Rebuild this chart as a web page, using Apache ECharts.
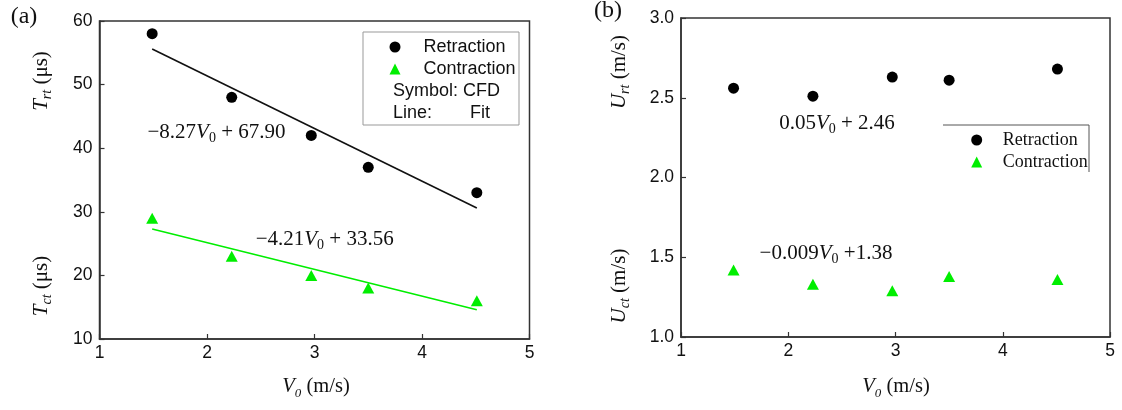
<!DOCTYPE html>
<html>
<head>
<meta charset="utf-8">
<script src="https://cdn.jsdelivr.net/npm/echarts@6/dist/echarts.min.js"></script>
<style>
  html, body { margin: 0; padding: 0; background: #fff; }
  #chart { width: 1122px; height: 410px; }
</style>
</head>
<body>
<div id="chart"></div>
<script>
// Impact velocity V0 (m/s)
const velocities = [1.49, 2.23, 2.97, 3.5, 4.51];

// (a) characteristic times (µs)
const retractionTime = [58, 48, 42, 37, 33];
const contractionTime = [29, 23, 20, 18, 16];

// (a) linear fits, end points over the sampled range
const fitRange = [1.49, 4.51];
const retractionFit = [55.6, 30.6];
const contractionFit = [27.3, 14.6];

// (b) characteristic velocities (m/s)
const retractionSpeed = [2.56, 2.51, 2.63, 2.61, 2.68];
const contractionSpeed = [1.42, 1.33, 1.29, 1.38, 1.36];

// axis ticks
const xTicks = [1, 2, 3, 4, 5];
const timeTicks = [10, 20, 30, 40, 50, 60];
const speedTicks = [1.0, 1.5, 2.0, 2.5, 3.0];

const SANS = '"Liberation Sans", Arial, sans-serif';
const SERIF = '"Liberation Serif", "Times New Roman", serif';
const GREEN = '#00ee00';

const pairs = (xs, ys) => xs.map((x, i) => [x, ys[i]]);

function valueAxis(gridIndex, ticks, fmt, isX) {
  return {
    type: 'value',
    gridIndex: gridIndex,
    min: ticks[0],
    max: ticks[ticks.length - 1],
    interval: ticks[1] - ticks[0],
    axisLine: { show: true, onZero: false, lineStyle: { color: '#333', width: 1.5 } },
    axisTick: { show: true, inside: true, length: 5, lineStyle: { color: '#333', width: 1.2 } },
    axisLabel: {
      color: '#111', fontFamily: SANS, fontSize: 17.5,
      margin: isX ? 5 : 7,
      formatter: fmt
    },
    splitLine: { show: false }
  };
}

// rich styles for math-like labels
function mathRich(size) {
  const lh = Math.round(size * 1.3);
  const sub = Math.round(size * 0.65);
  return {
    n: { fontFamily: SERIF, fontSize: size, lineHeight: lh, fill: '#111' },
    i: { fontFamily: SERIF, fontSize: size, fontStyle: 'italic', lineHeight: lh, fill: '#111' },
    s: { fontFamily: SERIF, fontSize: sub, lineHeight: sub, verticalAlign: 'bottom', fill: '#111' },
    si: { fontFamily: SERIF, fontSize: sub, fontStyle: 'italic', lineHeight: sub, verticalAlign: 'bottom', fill: '#111' }
  };
}

function label(text, x, y, size, rotate) {
  return {
    type: 'text',
    x: x, y: y,
    rotation: rotate ? Math.PI / 2 : 0,
    silent: true,
    style: {
      text: text,
      rich: mathRich(size),
      fontFamily: SERIF,
      fontSize: size,
      fill: '#111',
      align: 'center',
      verticalAlign: 'middle'
    }
  };
}

function plainText(text, x, y, family, size, align) {
  return {
    type: 'text', x: x, y: y, silent: true,
    style: { text: text, fontFamily: family, fontSize: size, fill: '#111',
             align: align || 'left', verticalAlign: 'middle' }
  };
}

const chart = echarts.init(document.getElementById('chart'), null, { renderer: 'canvas' });

chart.setOption({
  backgroundColor: '#ffffff',
  animation: false,
  grid: [
    { left: 99.5, top: 21, width: 430, height: 318, show: true, borderColor: '#333', borderWidth: 1.5, backgroundColor: 'transparent' },
    { left: 681, top: 18, width: 429, height: 319, show: true, borderColor: '#333', borderWidth: 1.5, backgroundColor: 'transparent' }
  ],
  xAxis: [
    valueAxis(0, xTicks, v => String(v), true),
    valueAxis(1, xTicks, v => String(v), true)
  ],
  yAxis: [
    valueAxis(0, timeTicks, v => String(v), false),
    valueAxis(1, speedTicks, v => v.toFixed(1), false)
  ],
  legend: [
    {
      data: ['Retraction', 'Contraction'],
      orient: 'vertical',
      left: 384.5, top: 33,
      itemWidth: 11, itemHeight: 11, itemGap: 4,
      selectedMode: false,
      textStyle: { fontFamily: SANS, fontSize: 18, color: '#111', padding: [0, 0, 0, 18] }
    },
    {
      data: ['Retraction', 'Contraction'],
      orient: 'vertical',
      left: 966.2, top: 126,
      itemWidth: 11, itemHeight: 11, itemGap: 4,
      selectedMode: false,
      textStyle: { fontFamily: SERIF, fontSize: 18, color: '#111', padding: [0, 0, 0, 15.5] }
    }
  ],
  series: [
    {
      name: 'Retraction fit', type: 'line', xAxisIndex: 0, yAxisIndex: 0,
      data: pairs(fitRange, retractionFit), showSymbol: false,
      lineStyle: { color: '#111', width: 1.6 }, z: 2
    },
    {
      name: 'Contraction fit', type: 'line', xAxisIndex: 0, yAxisIndex: 0,
      data: pairs(fitRange, contractionFit), showSymbol: false,
      lineStyle: { color: GREEN, width: 1.6 }, z: 2
    },
    {
      name: 'Retraction', type: 'scatter', xAxisIndex: 0, yAxisIndex: 0,
      data: pairs(velocities, retractionTime),
      symbol: 'circle', symbolSize: 11, itemStyle: { color: '#000', opacity: 1 }, z: 3
    },
    {
      name: 'Contraction', type: 'scatter', xAxisIndex: 0, yAxisIndex: 0,
      data: pairs(velocities, contractionTime),
      symbol: 'triangle', symbolSize: [12, 11], itemStyle: { color: GREEN, opacity: 1 }, z: 3
    },
    {
      name: 'Retraction', type: 'scatter', xAxisIndex: 1, yAxisIndex: 1,
      data: pairs(velocities, retractionSpeed),
      symbol: 'circle', symbolSize: 11, itemStyle: { color: '#000', opacity: 1 }, z: 3
    },
    {
      name: 'Contraction', type: 'scatter', xAxisIndex: 1, yAxisIndex: 1,
      data: pairs(velocities, contractionSpeed),
      symbol: 'triangle', symbolSize: [12, 11], itemStyle: { color: GREEN, opacity: 1 }, z: 3
    }
  ],
  graphic: [
    // panel tags
    plainText('(a)', 24, 17, SERIF, 24, 'center'),
    plainText('(b)', 608, 11, SERIF, 24, 'center'),

    // (a) legend frame and notes
    { type: 'rect', silent: true, shape: { x: 363, y: 32, width: 156, height: 93 },
      style: { fill: 'none', stroke: '#999', lineWidth: 1 } },
    plainText('Symbol: CFD', 393, 91, SANS, 18),
    plainText('Line:', 393, 113, SANS, 18),
    plainText('Fit', 470, 113, SANS, 18),

    // (b) legend frame (top and right edges)
    { type: 'polyline', silent: true, shape: { points: [[943, 125], [1089, 125], [1089, 172]] },
      style: { fill: 'none', stroke: '#555', lineWidth: 1 } },

    // axis titles, (a)
    label('{i|T}{si|rt}{n| (μs)}', 41, 81, 21, true),
    label('{i|T}{si|ct}{n| (μs)}', 41, 286, 21, true),
    label('{i|V}{si|0}{n| (m/s)}', 316, 387, 20.5, false),

    // axis titles, (b)
    label('{i|U}{si|rt}{n| (m/s)}', 619, 72, 21, true),
    label('{i|U}{si|ct}{n| (m/s)}', 619, 286, 21, true),
    label('{i|V}{si|0}{n| (m/s)}', 896, 387, 20.5, false),

    // fit equations
    label('{n|−8.27}{i|V}{s|0}{n| + 67.90}', 216.5, 132, 21, false),
    label('{n|−4.21}{i|V}{s|0}{n| + 33.56}', 324.7, 239, 21, false),
    label('{n|0.05}{i|V}{s|0}{n| + 2.46}', 837, 123, 21, false),
    label('{n|−0.009}{i|V}{s|0}{n| +1.38}', 826, 253, 21, false)
  ]
});
</script>
</body>
</html>
